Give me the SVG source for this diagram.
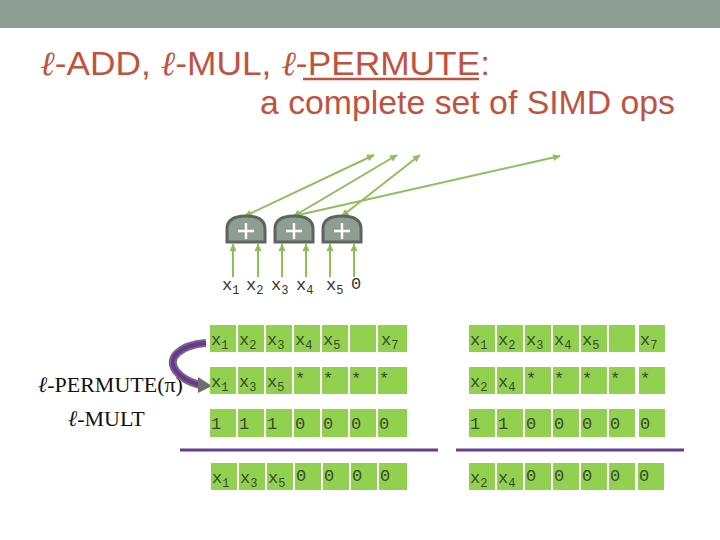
<svg xmlns="http://www.w3.org/2000/svg" width="720" height="540" viewBox="0 0 720 540">
<defs>
<marker id="ah" markerWidth="8" markerHeight="8" refX="7" refY="4" orient="auto" markerUnits="userSpaceOnUse">
<path d="M0,0.5 L7.5,4 L0,7.5 Z" fill="#8dc05a"/>
</marker>
<marker id="ahs" markerWidth="8" markerHeight="8" refX="1" refY="4" orient="auto" markerUnits="userSpaceOnUse">
<path d="M7.5,0.5 L0,4 L7.5,7.5 Z" fill="#8dc05a"/>
</marker>
</defs>
<style>
.title{font-family:"Liberation Sans",Arial,sans-serif;font-size:34px;fill:#c0533f}
.ell{font-family:"Liberation Serif","DejaVu Serif",serif;font-style:italic}
.lab{font-family:"Liberation Serif","DejaVu Serif",serif;font-size:22px;fill:#111}
.cell{fill:#92d050}
.ct{font-family:"Liberation Mono","Courier New",monospace;font-size:17px;fill:#3a4a30}
.sub{font-size:12px}
.in{font-family:"Liberation Mono","Courier New",monospace;font-size:17px;fill:#333}
.gate{fill:#8f9e93;stroke:#5e655f;stroke-width:3}
.plus{stroke:#ffffff;stroke-width:2.4}
.g{stroke:#8dc05a;stroke-width:2;fill:none}
.bar{stroke:#6a3c8c;stroke-width:3}
</style>
<rect x="0" y="0" width="720" height="28" fill="#909f95"/>
<rect x="0" y="28" width="720" height="512" fill="#ffffff"/>
<g id="title">
<text class="title" x="40" y="75" textLength="450" lengthAdjust="spacingAndGlyphs"><tspan class="ell">ℓ</tspan>-ADD, <tspan class="ell">ℓ</tspan>-MUL, <tspan class="ell">ℓ</tspan>-PERMUTE:</text>
<line x1="303" y1="79" x2="479" y2="79" stroke="#c0533f" stroke-width="2.5"/>
<text class="title" x="260" y="114" textLength="415" lengthAdjust="spacingAndGlyphs">a complete set of SIMD ops</text>
</g>
<g id="connectors">
<line class="g" x1="233" y1="277" x2="233" y2="244" marker-end="url(#ah)"/>
<line class="g" x1="258" y1="277" x2="258" y2="244" marker-end="url(#ah)"/>
<line class="g" x1="282" y1="277" x2="282" y2="244" marker-end="url(#ah)"/>
<line class="g" x1="306" y1="277" x2="306" y2="244" marker-end="url(#ah)"/>
<line class="g" x1="330" y1="277" x2="330" y2="244" marker-end="url(#ah)"/>
<line class="g" x1="354" y1="277" x2="354" y2="244" marker-end="url(#ah)"/>
<line class="g" x1="245" y1="216" x2="374" y2="155" marker-start="url(#ahs)" marker-end="url(#ah)"/>
<line class="g" x1="294" y1="216" x2="397" y2="155" marker-start="url(#ahs)" marker-end="url(#ah)"/>
<line class="g" x1="294" y1="216" x2="560" y2="156" marker-end="url(#ah)"/>
<line class="g" x1="342" y1="216" x2="420" y2="155" marker-start="url(#ahs)" marker-end="url(#ah)"/>
</g>
<g id="gate1">
<path class="gate" d="M227,242 V229 Q227,216 246,216 Q265,216 265,229 V242 Z"/>
<path class="plus" d="M238,231 H254 M246,223 V239"/>
</g>
<g id="gate2">
<path class="gate" d="M275,242 V229 Q275,216 294,216 Q313,216 313,229 V242 Z"/>
<path class="plus" d="M286,231 H302 M294,223 V239"/>
</g>
<g id="gate3">
<path class="gate" d="M323,242 V229 Q323,216 342,216 Q361,216 361,229 V242 Z"/>
<path class="plus" d="M334,231 H350 M342,223 V239"/>
</g>
<g id="inputs">
<text class="in" x="222" y="290">x<tspan class="sub" dy="4">1</tspan></text>
<text class="in" x="246" y="290">x<tspan class="sub" dy="4">2</tspan></text>
<text class="in" x="271" y="290">x<tspan class="sub" dy="4">3</tspan></text>
<text class="in" x="296" y="290">x<tspan class="sub" dy="4">4</tspan></text>
<text class="in" x="326" y="290">x<tspan class="sub" dy="4">5</tspan></text>
<text class="in" x="351" y="289">0</text>
</g>
<g id="labels">
<text class="lab" x="38" y="392"><tspan font-style="italic">ℓ</tspan>-PERMUTE(π)</text>
<text class="lab" x="68" y="426"><tspan font-style="italic">ℓ</tspan>-MULT</text>
</g>
<g id="permute-arrow">
<path d="M206,343 C180,345 166,358 176,371 C183,380 192,383 200,385" fill="none" stroke="#6e6e6e" stroke-width="8"/>
<path d="M206,343 C180,345 166,358 176,371 C183,380 192,383 200,385" fill="none" stroke="#7030a0" stroke-width="4"/>
<path d="M198,377 L212,386 L198,393 Z" fill="#6e6e6e"/>
</g>
<g id="left-table">
<g>
<rect class="cell" x="210" y="325" width="26" height="27"/><rect class="cell" x="238" y="325" width="26" height="27"/><rect class="cell" x="266" y="325" width="26" height="27"/><rect class="cell" x="294" y="325" width="26" height="27"/><rect class="cell" x="322" y="325" width="26" height="27"/><rect class="cell" x="350" y="325" width="26" height="27"/><rect class="cell" x="378" y="325" width="29" height="27"/>
<text class="ct" x="211" y="345">x<tspan class="sub" dy="4">1</tspan></text>
<text class="ct" x="239" y="345">x<tspan class="sub" dy="4">2</tspan></text>
<text class="ct" x="267" y="345">x<tspan class="sub" dy="4">3</tspan></text>
<text class="ct" x="295" y="345">x<tspan class="sub" dy="4">4</tspan></text>
<text class="ct" x="323" y="345">x<tspan class="sub" dy="4">5</tspan></text>
<text class="ct" x="381" y="345">x<tspan class="sub" dy="4">7</tspan></text>
</g>
<g>
<rect class="cell" x="210" y="367" width="26" height="27"/><rect class="cell" x="238" y="367" width="26" height="27"/><rect class="cell" x="266" y="367" width="26" height="27"/><rect class="cell" x="294" y="367" width="26" height="27"/><rect class="cell" x="322" y="367" width="26" height="27"/><rect class="cell" x="350" y="367" width="26" height="27"/><rect class="cell" x="378" y="367" width="29" height="27"/>
<text class="ct" x="211" y="387">x<tspan class="sub" dy="4">1</tspan></text>
<text class="ct" x="239" y="387">x<tspan class="sub" dy="4">3</tspan></text>
<text class="ct" x="267" y="387">x<tspan class="sub" dy="4">5</tspan></text>
<text class="ct" x="295" y="384">*</text>
<text class="ct" x="323" y="384">*</text>
<text class="ct" x="351" y="384">*</text>
<text class="ct" x="379" y="384">*</text>
</g>
<g>
<rect class="cell" x="210" y="409" width="26" height="28"/><rect class="cell" x="238" y="409" width="26" height="28"/><rect class="cell" x="266" y="409" width="26" height="28"/><rect class="cell" x="294" y="409" width="26" height="28"/><rect class="cell" x="322" y="409" width="26" height="28"/><rect class="cell" x="350" y="409" width="26" height="28"/><rect class="cell" x="378" y="409" width="29" height="28"/>
<text class="ct" x="211" y="429">1</text><text class="ct" x="239" y="429">1</text><text class="ct" x="267" y="429">1</text><text class="ct" x="295" y="429">0</text><text class="ct" x="323" y="429">0</text><text class="ct" x="351" y="429">0</text><text class="ct" x="379" y="429">0</text>
</g>
<line class="bar" x1="180" y1="450" x2="438" y2="450"/>
<g>
<rect class="cell" x="211" y="463" width="26" height="27"/><rect class="cell" x="239" y="463" width="26" height="27"/><rect class="cell" x="267" y="463" width="26" height="27"/><rect class="cell" x="295" y="463" width="26" height="27"/><rect class="cell" x="323" y="463" width="26" height="27"/><rect class="cell" x="351" y="463" width="26" height="27"/><rect class="cell" x="379" y="463" width="28" height="27"/>
<text class="ct" x="212" y="483">x<tspan class="sub" dy="4">1</tspan></text>
<text class="ct" x="240" y="483">x<tspan class="sub" dy="4">3</tspan></text>
<text class="ct" x="268" y="483">x<tspan class="sub" dy="4">5</tspan></text>
<text class="ct" x="296" y="481">0</text><text class="ct" x="324" y="481">0</text><text class="ct" x="352" y="481">0</text><text class="ct" x="380" y="481">0</text>
</g>
</g>
<g id="right-table">
<g>
<rect class="cell" x="469" y="325" width="26" height="27"/><rect class="cell" x="497" y="325" width="26" height="27"/><rect class="cell" x="525" y="325" width="26" height="27"/><rect class="cell" x="553" y="325" width="26" height="27"/><rect class="cell" x="581" y="325" width="26" height="27"/><rect class="cell" x="609" y="325" width="26" height="27"/><rect class="cell" x="639" y="325" width="26" height="27"/>
<text class="ct" x="470" y="345">x<tspan class="sub" dy="4">1</tspan></text>
<text class="ct" x="498" y="345">x<tspan class="sub" dy="4">2</tspan></text>
<text class="ct" x="526" y="345">x<tspan class="sub" dy="4">3</tspan></text>
<text class="ct" x="554" y="345">x<tspan class="sub" dy="4">4</tspan></text>
<text class="ct" x="582" y="345">x<tspan class="sub" dy="4">5</tspan></text>
<text class="ct" x="640" y="345">x<tspan class="sub" dy="4">7</tspan></text>
</g>
<g>
<rect class="cell" x="469" y="367" width="26" height="27"/><rect class="cell" x="497" y="367" width="26" height="27"/><rect class="cell" x="525" y="367" width="26" height="27"/><rect class="cell" x="553" y="367" width="26" height="27"/><rect class="cell" x="581" y="367" width="26" height="27"/><rect class="cell" x="609" y="367" width="26" height="27"/><rect class="cell" x="639" y="367" width="26" height="27"/>
<text class="ct" x="470" y="387">x<tspan class="sub" dy="4">2</tspan></text>
<text class="ct" x="498" y="387">x<tspan class="sub" dy="4">4</tspan></text>
<text class="ct" x="526" y="384">*</text>
<text class="ct" x="554" y="384">*</text>
<text class="ct" x="582" y="384">*</text>
<text class="ct" x="610" y="384">*</text>
<text class="ct" x="640" y="384">*</text>
</g>
<g>
<rect class="cell" x="469" y="409" width="26" height="28"/><rect class="cell" x="497" y="409" width="26" height="28"/><rect class="cell" x="525" y="409" width="26" height="28"/><rect class="cell" x="553" y="409" width="26" height="28"/><rect class="cell" x="581" y="409" width="26" height="28"/><rect class="cell" x="609" y="409" width="26" height="28"/><rect class="cell" x="639" y="409" width="26" height="28"/>
<text class="ct" x="470" y="429">1</text><text class="ct" x="498" y="429">1</text><text class="ct" x="526" y="429">0</text><text class="ct" x="554" y="429">0</text><text class="ct" x="582" y="429">0</text><text class="ct" x="610" y="429">0</text><text class="ct" x="640" y="429">0</text>
</g>
<line class="bar" x1="456" y1="450" x2="684" y2="450"/>
<g>
<rect class="cell" x="469" y="463" width="26" height="27"/><rect class="cell" x="497" y="463" width="26" height="27"/><rect class="cell" x="525" y="463" width="26" height="27"/><rect class="cell" x="553" y="463" width="26" height="27"/><rect class="cell" x="581" y="463" width="26" height="27"/><rect class="cell" x="609" y="463" width="26" height="27"/><rect class="cell" x="638" y="463" width="26" height="27"/>
<text class="ct" x="470" y="483">x<tspan class="sub" dy="4">2</tspan></text>
<text class="ct" x="498" y="483">x<tspan class="sub" dy="4">4</tspan></text>
<text class="ct" x="526" y="481">0</text><text class="ct" x="554" y="481">0</text><text class="ct" x="582" y="481">0</text><text class="ct" x="610" y="481">0</text><text class="ct" x="639" y="481">0</text>
</g>
</g>
</svg>
